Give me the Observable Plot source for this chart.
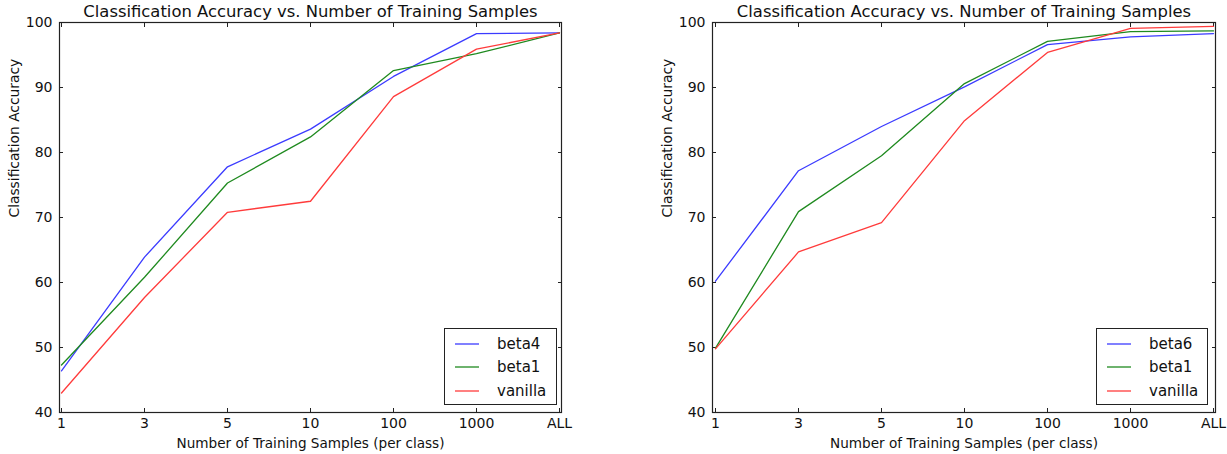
<!DOCTYPE html>
<html>
<head>
<meta charset="utf-8">
<script src="https://cdn.jsdelivr.net/npm/d3@7"></script>
<script src="https://cdn.jsdelivr.net/npm/@observablehq/plot@0.6"></script>
<style>
  html, body { margin: 0; padding: 0; background: #fff; }
  #wrap { display: flex; flex-direction: row; width: 1227px; height: 454px; }
  .panel { position: relative; }
  .legend { position: absolute; border: 1.2px solid #222; background: #fff; box-sizing: border-box;
            font-family: "DejaVu Sans", sans-serif; font-size: 15px; color: #111; padding: 3px 0 0 0; }
  .legend .row { display: flex; align-items: center; height: 23.5px; }
  .legend svg { margin-left: 10px; margin-right: 18px; }
</style>
</head>
<body>
<div id="wrap"></div>
<script>
const categories = ["1", "3", "5", "10", "100", "1000", "ALL"];
const yTicks = [40, 50, 60, 70, 80, 90, 100];

// Left panel
const leftBeta4   = [46.4, 63.9, 77.8, 83.6, 91.7, 98.3, 98.4];
const leftBeta1   = [47.3, 60.8, 75.3, 82.4, 92.6, 95.2, 98.4];
const leftVanilla = [43.0, 57.7, 70.8, 72.5, 88.6, 95.9, 98.4];

// Right panel
const rightBeta6   = [60.2, 77.2, 84.0, 90.1, 96.6, 97.8, 98.3];
const rightBeta1   = [49.9, 70.9, 79.5, 90.6, 97.1, 98.6, 98.7];
const rightVanilla = [49.8, 64.7, 69.2, 84.9, 95.4, 99.1, 99.4];

const colors = {blue: "#3b3bff", green: "#1f8a1f", red: "#ff3b3b"};
const titleText = "Classification Accuracy vs. Number of Training Samples";
const xLabel = "Number of Training Samples (per class)";
const yLabel = "Classification Accuracy";

function toRows(series) {
  const rows = [];
  for (const s of series) s.values.forEach((v, i) => rows.push({series: s.name, x: categories[i], y: v, color: s.color}));
  return rows;
}

function makePanel(series, dims, legendBox) {
  const rows = toRows(series);
  const font = "DejaVu Sans, sans-serif";
  const plot = Plot.plot({
    width: dims.width, height: 454,
    marginLeft: dims.ml, marginRight: dims.mr, marginTop: 22, marginBottom: 42,
    style: {fontFamily: font, fontSize: "14px", color: "#111", background: "#fff"},
    x: {type: "point", domain: categories, padding: 0},
    y: {domain: [40, 100]},
    marks: [
      Plot.frame({stroke: "#222", strokeWidth: 1.2}),
      Plot.axisX({ticks: categories, tickSize: 0, tickPadding: 6, label: null, fontSize: 14}),
      Plot.axisX({ticks: categories, tickSize: -4, text: null, label: null, stroke: "#222"}),
      Plot.axisX({anchor: "top", ticks: categories, tickSize: -4, text: null, label: null, stroke: "#222"}),
      Plot.axisY({ticks: yTicks, tickSize: 0, tickPadding: 7, label: null, fontSize: 14}),
      Plot.axisY({ticks: yTicks, tickSize: -4, text: null, label: null, stroke: "#222"}),
      Plot.axisY({anchor: "right", ticks: yTicks, tickSize: -4, text: null, label: null, stroke: "#222"}),
      Plot.line(rows, {x: "x", y: "y", z: "series", stroke: "color", strokeWidth: 1.3}),
      Plot.text([titleText], {frameAnchor: "top", dy: -11, lineAnchor: "middle", fontSize: 16.4, fill: "#111"}),
      Plot.text([xLabel], {frameAnchor: "bottom", dy: 31, lineAnchor: "middle", fontSize: 13.6, fill: "#111"}),
      Plot.text([yLabel], {frameAnchor: "left", dx: -45, rotate: -90, lineAnchor: "middle", fontSize: 13.8, fill: "#111"})
    ]
  });
  const panel = document.createElement("div");
  panel.className = "panel";
  panel.style.width = dims.width + "px";
  panel.appendChild(plot);
  const leg = document.createElement("div");
  leg.className = "legend";
  Object.assign(leg.style, {left: legendBox.left + "px", top: legendBox.top + "px", width: legendBox.w + "px", height: legendBox.h + "px"});
  const ns = "http://www.w3.org/2000/svg";
  for (const s of series) {
    const row = document.createElement("div");
    row.className = "row";
    const sw = document.createElementNS(ns, "svg");
    sw.setAttribute("width", "24");
    sw.setAttribute("height", "4");
    const ln = document.createElementNS(ns, "line");
    ln.setAttribute("x1", "0"); ln.setAttribute("x2", "24");
    ln.setAttribute("y1", "2"); ln.setAttribute("y2", "2");
    ln.setAttribute("stroke", s.color);
    ln.setAttribute("stroke-width", "1.3");
    sw.appendChild(ln);
    const lab = document.createElement("span");
    lab.textContent = s.name;
    row.appendChild(sw); row.appendChild(lab);
    leg.appendChild(row);
  }
  panel.appendChild(leg);
  return panel;
}

const wrap = document.getElementById("wrap");
wrap.appendChild(makePanel([
  {name: "beta4", values: leftBeta4, color: colors.blue},
  {name: "beta1", values: leftBeta1, color: colors.green},
  {name: "vanilla", values: leftVanilla, color: colors.red}
], {width: 613, ml: 59, mr: 52}, {left: 444, top: 328, w: 113, h: 77}));
wrap.appendChild(makePanel([
  {name: "beta6", values: rightBeta6, color: colors.blue},
  {name: "beta1", values: rightBeta1, color: colors.green},
  {name: "vanilla", values: rightVanilla, color: colors.red}
], {width: 614, ml: 99, mr: 12}, {left: 483, top: 328, w: 112, h: 77}));
</script>
</body>
</html>
